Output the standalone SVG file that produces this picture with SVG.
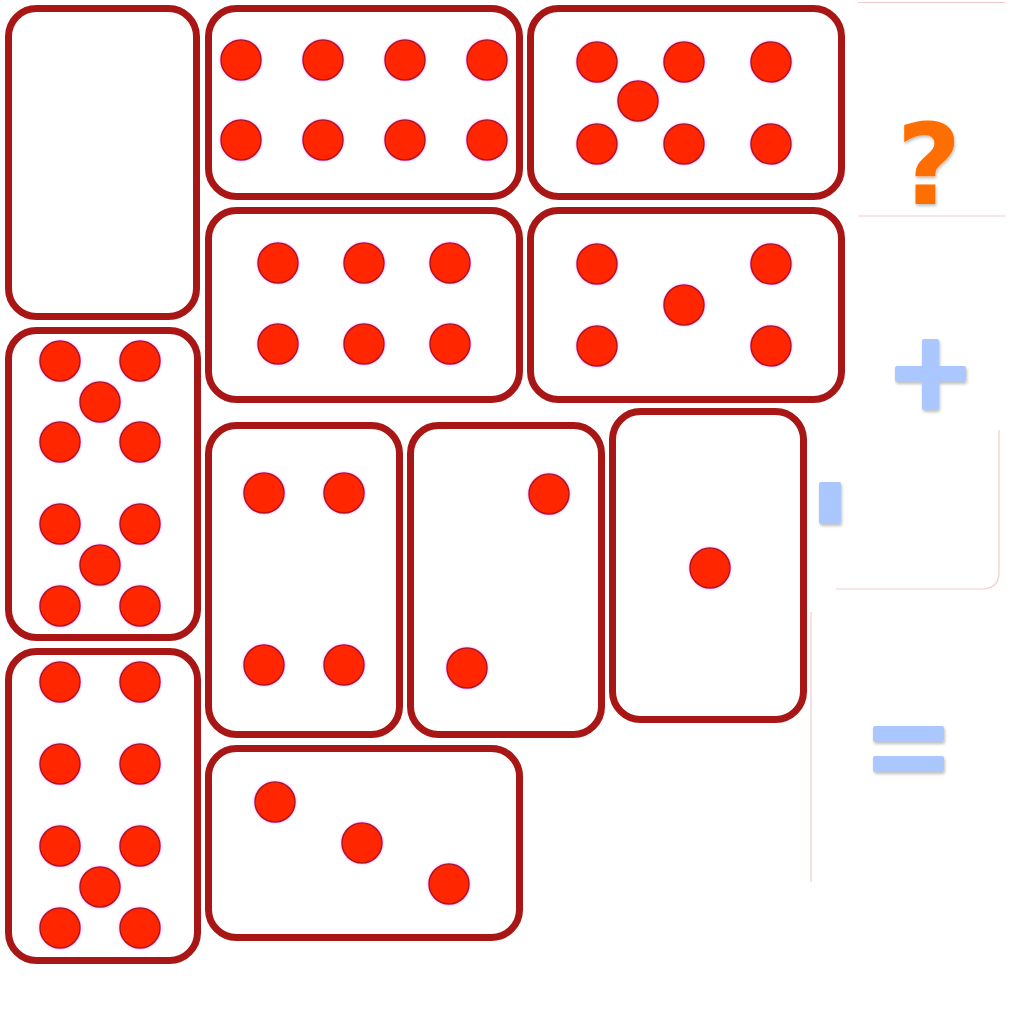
<svg xmlns="http://www.w3.org/2000/svg" width="1024" height="1024" viewBox="0 0 1024 1024">
<defs>
<style>
.card{fill:#fff;stroke:#a81616;stroke-width:7}
.dot{fill:#ff2800;stroke:#b01818;stroke-width:1.5}
.sym{fill:#aac8ff}
.faint{stroke:#f2cccc;stroke-width:1.2;fill:none}
</style>
<filter id="sh" x="-20%" y="-20%" width="150%" height="150%"><feDropShadow dx="1" dy="2" stdDeviation="1.5" flood-color="#000" flood-opacity="0.25"/></filter>
<filter id="glow" x="-30%" y="-30%" width="160%" height="160%"><feDropShadow dx="0" dy="0" stdDeviation="1.2" flood-color="#ff40ff" flood-opacity="0.6"/></filter>
</defs>
<rect width="1024" height="1024" fill="#fff"/>
<g id="card-blank"><rect class="card" x="8.5" y="8.5" width="188" height="308" rx="28"/></g>
<g id="card-8"><rect class="card" x="208.5" y="8.5" width="311" height="188" rx="28"/>
<g filter="url(#glow)"><circle class="dot" cx="241" cy="60" r="20"/><circle class="dot" cx="323" cy="60" r="20"/><circle class="dot" cx="405" cy="60" r="20"/><circle class="dot" cx="487" cy="60" r="20"/>
<circle class="dot" cx="241" cy="140" r="20"/><circle class="dot" cx="323" cy="140" r="20"/><circle class="dot" cx="405" cy="140" r="20"/><circle class="dot" cx="487" cy="140" r="20"/></g></g>
<g id="card-7"><rect class="card" x="530.5" y="8.5" width="311" height="188" rx="28"/>
<g filter="url(#glow)"><circle class="dot" cx="597" cy="62" r="20"/><circle class="dot" cx="684" cy="62" r="20"/><circle class="dot" cx="771" cy="62" r="20"/><circle class="dot" cx="638" cy="101" r="20"/>
<circle class="dot" cx="597" cy="144" r="20"/><circle class="dot" cx="684" cy="144" r="20"/><circle class="dot" cx="771" cy="144" r="20"/></g></g>
<g id="card-6"><rect class="card" x="208.5" y="210.5" width="311" height="189" rx="28"/>
<g filter="url(#glow)"><circle class="dot" cx="278" cy="263" r="20"/><circle class="dot" cx="364" cy="263" r="20"/><circle class="dot" cx="450" cy="263" r="20"/>
<circle class="dot" cx="278" cy="344" r="20"/><circle class="dot" cx="364" cy="344" r="20"/><circle class="dot" cx="450" cy="344" r="20"/></g></g>
<g id="card-5"><rect class="card" x="530.5" y="210.5" width="311" height="189" rx="28"/>
<g filter="url(#glow)"><circle class="dot" cx="597" cy="264" r="20"/><circle class="dot" cx="771" cy="264" r="20"/><circle class="dot" cx="684" cy="305" r="20"/>
<circle class="dot" cx="597" cy="346" r="20"/><circle class="dot" cx="771" cy="346" r="20"/></g></g>
<g id="card-10"><rect class="card" x="8.5" y="330.5" width="189" height="307" rx="28"/>
<g filter="url(#glow)"><circle class="dot" cx="60" cy="361" r="20"/><circle class="dot" cx="140" cy="361" r="20"/><circle class="dot" cx="100" cy="402" r="20"/><circle class="dot" cx="60" cy="442" r="20"/><circle class="dot" cx="140" cy="442" r="20"/>
<circle class="dot" cx="60" cy="524" r="20"/><circle class="dot" cx="140" cy="524" r="20"/><circle class="dot" cx="100" cy="565" r="20"/><circle class="dot" cx="60" cy="606" r="20"/><circle class="dot" cx="140" cy="606" r="20"/></g></g>
<g id="card-9"><rect class="card" x="8.5" y="651.5" width="189" height="309" rx="28"/>
<g filter="url(#glow)"><circle class="dot" cx="60" cy="682" r="20"/><circle class="dot" cx="140" cy="682" r="20"/><circle class="dot" cx="60" cy="764" r="20"/><circle class="dot" cx="140" cy="764" r="20"/>
<circle class="dot" cx="60" cy="846" r="20"/><circle class="dot" cx="140" cy="846" r="20"/><circle class="dot" cx="100" cy="887" r="20"/><circle class="dot" cx="60" cy="928" r="20"/><circle class="dot" cx="140" cy="928" r="20"/></g></g>
<g id="card-4"><rect class="card" x="208.5" y="425.5" width="191" height="309" rx="28"/>
<g filter="url(#glow)"><circle class="dot" cx="264" cy="493" r="20"/><circle class="dot" cx="344" cy="493" r="20"/><circle class="dot" cx="264" cy="665" r="20"/><circle class="dot" cx="344" cy="665" r="20"/></g></g>
<g id="card-2"><rect class="card" x="410.5" y="425.5" width="191" height="309" rx="28"/>
<g filter="url(#glow)"><circle class="dot" cx="549" cy="494" r="20"/><circle class="dot" cx="467" cy="668" r="20"/></g></g>
<g id="card-1"><rect class="card" x="612.5" y="411.5" width="191" height="308" rx="28"/>
<g filter="url(#glow)"><circle class="dot" cx="710" cy="568" r="20"/></g></g>
<g id="card-3"><rect class="card" x="208.5" y="748.5" width="311" height="189" rx="28"/>
<g filter="url(#glow)"><circle class="dot" cx="275" cy="802" r="20"/><circle class="dot" cx="362" cy="843" r="20"/><circle class="dot" cx="449" cy="884" r="20"/></g></g>
<g id="panel-lines">
<line class="faint" x1="858" y1="2.5" x2="1005" y2="2.5"/>
<line class="faint" x1="858" y1="216" x2="1005" y2="216"/>
<path class="faint" d="M999 430 V572 Q999 589 982 589 H836"/>
<line class="faint" x1="811" y1="612" x2="811" y2="882"/>
</g>
<g id="question"><text x="929" y="204" text-anchor="middle" font-family="DejaVu Sans, sans-serif" font-weight="bold" font-size="112" fill="#ff6e00" filter="url(#sh)">?</text></g>
<g id="plus" filter="url(#sh)"><rect class="sym" x="922" y="339" width="17" height="71" rx="2"/><rect class="sym" x="895" y="366" width="71" height="16" rx="2"/></g>
<g id="minus-piece" filter="url(#sh)"><rect class="sym" x="819" y="482" width="22" height="42" rx="2"/></g>
<g id="equals" filter="url(#sh)"><rect class="sym" x="873" y="726" width="71" height="16" rx="2"/><rect class="sym" x="873" y="756" width="71" height="16" rx="2"/></g>
</svg>
